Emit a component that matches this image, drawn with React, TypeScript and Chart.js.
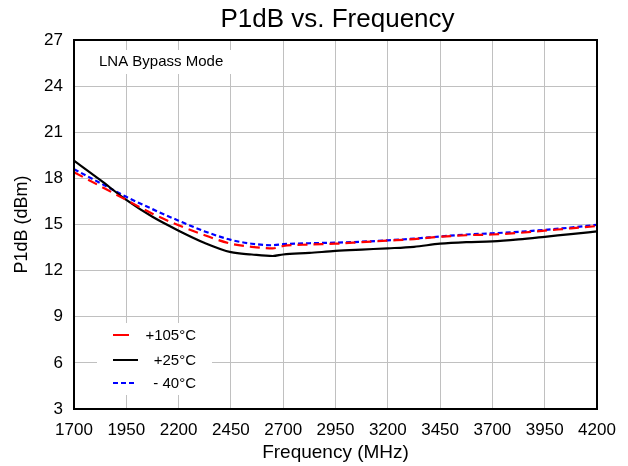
import React, { useEffect, useRef } from "react";
import { Chart, registerables } from "chart.js";

Chart.register(...registerables);

const freqs = [1700, 1825, 1950, 2075, 2200, 2325, 2450, 2550, 2650, 2700, 2825, 2950, 3075, 3200, 3325, 3450, 3575, 3700, 3825, 3950, 4075, 4200];
const p105 = [18.4, 17.5, 16.6, 15.7, 14.95, 14.3, 13.75, 13.55, 13.45, 13.6, 13.7, 13.75, 13.85, 13.95, 14.05, 14.2, 14.3, 14.35, 14.45, 14.6, 14.75, 14.9];
const p25 = [19.15, 17.9, 16.6, 15.5, 14.6, 13.8, 13.2, 13.05, 12.95, 13.05, 13.15, 13.28, 13.37, 13.45, 13.55, 13.75, 13.85, 13.9, 14.03, 14.2, 14.38, 14.55];
const m40 = [18.6, 17.7, 16.8, 16.0, 15.25, 14.55, 14.0, 13.75, 13.65, 13.72, 13.78, 13.82, 13.88, 13.97, 14.08, 14.22, 14.35, 14.43, 14.52, 14.65, 14.8, 14.98];

const seriesLabels = ["+105°C", "+25°C", "- 40°C"];
const seriesColors = ["#ff0000", "#000000", "#0000ff"];
const seriesDashes = [[10, 6], [], [5, 3]];
const seriesValues = [p105, p25, m40];

const titleText = "P1dB vs. Frequency";
const noteText = "LNA Bypass Mode";
const FONT = "'Liberation Sans', Arial, sans-serif";

export default function App() {
  const ref = useRef<HTMLCanvasElement | null>(null);
  useEffect(() => {
    document.body.style.margin = "0";
    const canvas = ref.current!;
    const overlay = {
      id: "overlay",
      afterDraw(chart: any) {
        const { ctx, chartArea: a } = chart;
        ctx.save();
        // title
        ctx.fillStyle = "#000";
        ctx.font = `26px ${FONT}`;
        ctx.textAlign = "center";
        ctx.textBaseline = "middle";
        ctx.fillText(titleText, (a.left + a.right) / 2 + 2, 20);
        // note box
        ctx.fillStyle = "#fff";
        ctx.fillRect(88, 50, 146, 24);
        ctx.fillStyle = "#000";
        ctx.font = `15px ${FONT}`;
        ctx.textAlign = "left";
        ctx.fillText(noteText, 99, 62);
        // legend box
        ctx.fillStyle = "#fff";
        ctx.fillRect(97, 323, 115, 72);
        const ys = [335, 360, 383];
        const lens = [16, 25, 24];
        ctx.font = `15px ${FONT}`;
        ctx.textAlign = "right";
        for (let i = 0; i < 3; i++) {
          ctx.strokeStyle = seriesColors[i];
          ctx.lineWidth = 2;
          ctx.setLineDash(i === 2 ? [5, 3] : []);
          ctx.beginPath();
          ctx.moveTo(113, ys[i]);
          ctx.lineTo(113 + lens[i], ys[i]);
          ctx.stroke();
          ctx.setLineDash([]);
          ctx.fillStyle = "#000";
          ctx.fillText(seriesLabels[i], 196, ys[i] + 1);
        }
        // frame
        ctx.strokeStyle = "#000";
        ctx.lineWidth = 2;
        ctx.strokeRect(a.left, a.top, a.right - a.left, a.bottom - a.top);
        ctx.restore();
      },
    };
    const chart = new Chart(canvas, {
      type: "line",
      data: {
        datasets: seriesValues.map((vals, i) => ({
          label: seriesLabels[i],
          data: freqs.map((f, j) => ({ x: f, y: vals[j] })),
          borderColor: seriesColors[i],
          backgroundColor: seriesColors[i],
          borderWidth: 2.2,
          borderDash: seriesDashes[i],
          pointRadius: 0,
          cubicInterpolationMode: "monotone" as const,
          fill: false,
        })),
      },
      options: {
        responsive: false,
        animation: false,
        layout: { padding: { top: 40, right: 31, bottom: 0, left: 0 } },
        plugins: { legend: { display: false }, title: { display: false }, tooltip: { enabled: false } },
        scales: {
          x: {
            type: "linear",
            min: 1700,
            max: 4200,
            afterFit: (s: any) => { s.height = 57; },
            ticks: { stepSize: 250, color: "#000", font: { family: FONT, size: 17 }, padding: 11, maxRotation: 0, autoSkip: false, callback: (v: any) => String(v) },
            grid: { color: "#c0c0c0", lineWidth: 1, drawTicks: false },
            border: { display: false },
            title: { display: true, text: "Frequency (MHz)", color: "#000", font: { family: FONT, size: 19 }, padding: { top: 0, bottom: 2 } },
          },
          y: {
            min: 3,
            max: 27,
            afterFit: (s: any) => { s.width = 74; },
            ticks: { stepSize: 3, color: "#000", font: { family: FONT, size: 17 }, padding: 11 },
            grid: { color: "#c0c0c0", lineWidth: 1, drawTicks: false },
            border: { display: false },
            title: { display: true, text: "P1dB (dBm)", color: "#000", font: { family: FONT, size: 18 }, padding: { top: 11, bottom: 0 } },
          },
        },
      },
      plugins: [overlay],
    });
    return () => chart.destroy();
  }, []);
  return <canvas ref={ref} width={628} height={466} style={{ display: "block" }} />;
}
